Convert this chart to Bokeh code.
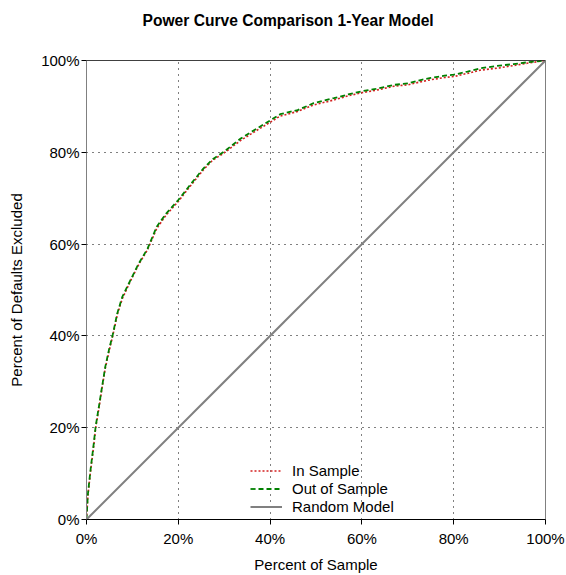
from bokeh.plotting import figure
from bokeh.models import Range1d, FixedTicker, PrintfTickFormatter, Legend, LegendItem, Span, Title
from bokeh.embed import file_html
from bokeh.resources import INLINE

# Cumulative share of defaults excluded (%) against share of sample excluded (%)
in_sample_x = [0, 0.3, 0.9, 1.6, 2.0, 2.7, 3.4, 4.1, 4.9, 5.7, 6.7, 7.8, 9.6, 11.4,
               13.3, 15.3, 17.4, 20.0, 22.5, 25.4, 27.5, 29.9, 33.6, 36.5, 40.1, 42.2,
               46.0, 49.5, 53.9, 57.0, 60.0, 63.0, 67.0, 70.0, 73.0, 75.0, 78.0, 80.0,
               83.0, 85.8, 90.0, 93.0, 96.0, 100.0]
in_sample_y = [0, 5.2, 10.6, 16.3, 20.0, 24.2, 28.7, 33.0, 36.6, 39.9, 44.6, 48.1, 52.0, 55.6,
               58.8, 63.4, 66.4, 69.3, 72.5, 76.1, 78.3, 79.8, 82.6, 84.4, 86.6, 87.9,
               88.9, 90.3, 91.4, 92.3, 93.0, 93.5, 94.4, 94.7, 95.4, 95.8, 96.3, 96.5,
               97.2, 97.9, 98.4, 98.9, 99.4, 100.0]

out_sample_x = [0, 0.3, 0.9, 1.6, 2.0, 2.7, 3.4, 4.1, 4.9, 5.7, 6.7, 7.8, 9.6, 11.4,
                13.3, 15.3, 17.4, 20.0, 22.5, 25.4, 27.5, 29.9, 33.6, 36.5, 40.1, 42.2,
                46.0, 49.5, 53.9, 57.0, 60.0, 63.0, 67.0, 70.0, 73.0, 75.0, 78.0, 80.0,
                83.0, 85.8, 90.0, 93.0, 96.0, 100.0]
out_sample_y = [0, 5.5, 11.0, 16.7, 20.3, 24.6, 29.0, 33.3, 37.0, 40.2, 44.9, 48.5, 52.2, 55.8,
                59.0, 63.8, 66.7, 69.6, 72.8, 76.4, 78.5, 80.1, 83.0, 84.8, 87.0, 88.3,
                89.2, 90.7, 91.8, 92.6, 93.3, 93.8, 94.7, 95.0, 95.8, 96.2, 96.7, 96.9,
                97.6, 98.3, 98.9, 99.2, 99.6, 100.0]

random_x = [0, 100]
random_y = [0, 100]

tick_values = [0, 20, 40, 60, 80, 100]

FONT = "Liberation Sans"

p = figure(width=566, height=575, output_backend="svg", toolbar_location=None,
           title=None,
           x_range=Range1d(0, 100), y_range=Range1d(0, 100),
           min_border_left=86, min_border_right=21, min_border_top=60, min_border_bottom=55)

# blank band between the heading and the plot frame
p.add_layout(Title(text=" ", text_font_size="1px", standoff=20), "above")
p.add_layout(Title(text="Power Curve Comparison 1-Year Model", text_font=FONT,
                   text_font_size="15.6px", text_font_style="bold", text_color="black",
                   align="left", offset=56, standoff=18), "above")

for ax in (p.xaxis, p.yaxis):
    ax.ticker = FixedTicker(ticks=tick_values)
    ax.formatter = PrintfTickFormatter(format="%d%%")
    ax.major_label_text_font = FONT
    ax.major_label_text_font_size = "15px"
    ax.major_label_text_color = "black"
    ax.axis_label_text_font = FONT
    ax.axis_label_text_font_size = "15px"
    ax.axis_label_text_font_style = "normal"
    ax.axis_label_text_color = "black"
    ax.minor_tick_line_color = None
    ax.major_tick_in = 0
    ax.major_tick_out = 5
    ax.major_tick_line_color = "black"

p.xaxis.axis_label = "Percent of Sample"
p.yaxis.axis_label = "Percent of Defaults Excluded"
p.xaxis.axis_line_color = "black"
p.yaxis.axis_line_color = "#808080"
p.xaxis.major_label_standoff = 5
p.yaxis.major_label_standoff = 2
p.xaxis.axis_label_standoff = 6
p.yaxis.axis_label_standoff = 13

for g in (p.xgrid, p.ygrid):
    g.ticker = FixedTicker(ticks=tick_values)
    g.grid_line_color = "black"
    g.grid_line_dash = "1 5"
    g.grid_line_width = 1

p.outline_line_color = "#808080"
p.outline_line_width = 1
p.background_fill_color = "white"
p.border_fill_color = "white"

p.add_layout(Span(location=100, dimension="width", line_color="black", line_width=1))

r_in = p.line(in_sample_x, in_sample_y, line_color="#d42020", line_width=1.6, line_dash="2 2")
r_out = p.line(out_sample_x, out_sample_y, line_color="#008000", line_width=1.8, line_dash="5 3")
r_rand = p.line(random_x, random_y, line_color="#808080", line_width=2)

legend = Legend(items=[
    LegendItem(label="In Sample", renderers=[r_in]),
    LegendItem(label="Out of Sample", renderers=[r_out]),
    LegendItem(label="Random Model", renderers=[r_rand]),
], location=(164, 4))
legend.label_text_font = FONT
legend.label_text_font_size = "15px"
legend.label_text_color = "black"
legend.glyph_width = 32
legend.glyph_height = 17
legend.label_height = 17
legend.label_standoff = 10
legend.spacing = 1
legend.padding = 0
legend.margin = 0
legend.background_fill_alpha = 0
legend.border_line_alpha = 0
p.add_layout(legend)

open("out.html", "w").write(file_html(p, INLINE))
